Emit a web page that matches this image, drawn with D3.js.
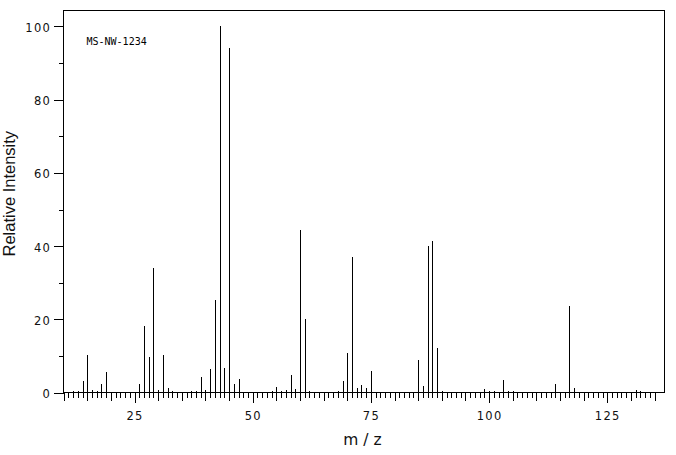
<!DOCTYPE html>
<html>
<head>
<meta charset="utf-8">
<script src="https://cdn.jsdelivr.net/npm/d3@7"></script>
<style>
  body { margin: 0; background: #fff; }
  svg { display: block; }
  .tick text { font-family: "DejaVu Sans", sans-serif; font-size: 11.5px; letter-spacing: 1.3px; fill: #111; }
</style>
</head>
<body>
<script>
// peak list
const mz = [12, 13, 14, 15, 16, 17, 18, 19, 20, 25, 26, 27, 28, 29, 30, 31, 32, 33,
  36, 37, 38, 39, 40, 41, 42, 43, 44, 45, 46, 47, 53, 54, 55, 56, 57, 58, 59, 60,
  61, 62, 63, 68, 69, 70, 71, 72, 73, 74, 75, 76, 85, 86, 87, 88, 89, 90, 91,
  99, 100, 101, 103, 104, 105, 114, 117, 118, 119, 131, 132, 133];
const intensity = [0.4, 0.4, 3.2, 10.4, 0.7, 0.6, 2.4, 5.7, 0.3, 0.3, 2.4, 18.3, 9.8, 34.1, 0.7, 10.4, 1.3, 0.4,
  0.3, 0.5, 0.6, 4.4, 0.8, 6.6, 25.4, 100, 6.7, 94.1, 2.4, 3.7, 0.3, 0.4, 1.6, 0.5, 0.7, 4.9, 1.0, 44.3,
  20.2, 0.5, 0.3, 0.6, 3.3, 10.9, 37.1, 1.4, 2.2, 1.4, 6.0, 0.3, 9.0, 1.8, 40.0, 41.3, 12.3, 0.5, 0.3,
  1.0, 0.4, 0.5, 3.5, 0.4, 0.5, 2.4, 23.8, 1.3, 0.3, 0.8, 0.4, 0.3];

const xTicks = d3.range(10, 136);
const xLabels = [25, 50, 75, 100, 125];
const yTicks = d3.range(0, 101, 10);
const yLabels = [0, 20, 40, 60, 80, 100];
const sampleName = 'MS-NW-1234';

const w = 676, h = 455;
const plotLeft = 63.67, plotRight = 664, plotTop = 10, plotBottom = 392.7;

const x = d3.scaleLinear([10, 137], [plotLeft, plotRight]);
const y = d3.scaleLinear([0, 104.5], [plotBottom, plotTop]);

const svg = d3.select('body').append('svg')
  .attr('width', w)
  .attr('height', h);

// frame (top + right); left and bottom come from the axes
svg.append('path')
  .attr('d', `M${plotLeft},${plotTop}H${plotRight}V${plotBottom}`)
  .attr('fill', 'none')
  .attr('stroke', '#000')
  .attr('shape-rendering', 'crispEdges');

// x axis: a tick every unit, longer every 5, longest every 25
const xAxis = svg.append('g')
  .attr('transform', `translate(0,${plotBottom})`)
  .call(d3.axisBottom(x)
    .tickValues(xTicks)
    .tickSize(5)
    .tickFormat(d => xLabels.includes(d) ? d : ''));
xAxis.selectAll('.tick line')
  .attr('y2', d => d % 25 === 0 ? 10 : d % 5 === 0 ? 8 : 5);
xAxis.selectAll('.tick text').attr('y', 27.3).attr('dy', 0);
xAxis.select('.domain').attr('d', `M${plotLeft},0H${plotRight}`);

// y axis
const yAxis = svg.append('g')
  .attr('transform', `translate(${plotLeft},0)`)
  .call(d3.axisLeft(y)
    .tickValues(yTicks)
    .tickSize(5)
    .tickFormat(d => yLabels.includes(d) ? d : ''));
yAxis.selectAll('.tick line')
  .attr('x2', d => d % 20 === 0 ? -10 : -5);
yAxis.selectAll('.tick text').attr('x', -12.5).attr('dy', '0.42em');
yAxis.select('.domain').attr('d', `M0,${plotTop}V${plotBottom}`);

svg.selectAll('.domain, .tick line')
  .attr('stroke', '#000')
  .attr('shape-rendering', 'crispEdges');

// sticks
svg.append('g')
  .selectAll('line')
  .data(mz)
  .join('line')
    .attr('x1', d => Math.round(x(d)) + 0.5)
    .attr('x2', d => Math.round(x(d)) + 0.5)
    .attr('y1', y(0))
    .attr('y2', (d, i) => y(intensity[i]))
    .attr('stroke', '#000')
    .attr('stroke-width', 1)
    .attr('shape-rendering', 'crispEdges');

svg.append('text')
  .attr('x', 86.5)
  .attr('y', 45)
  .style('font-family', '"DejaVu Sans Mono", monospace')
  .style('font-size', '10px')
  .text(sampleName);

svg.append('text')
  .attr('transform', 'translate(15,193.7) rotate(-90)')
  .attr('text-anchor', 'middle')
  .style('font-family', '"Liberation Sans", sans-serif')
  .style('font-size', '16.5px')
  .style('fill', '#111')
  .text('Relative Intensity');

svg.append('text')
  .attr('x', 365)
  .attr('y', 445)
  .attr('text-anchor', 'middle')
  .style('font-family', '"DejaVu Sans", sans-serif')
  .style('font-size', '15.5px')
  .style('letter-spacing', '5px')
  .style('fill', '#111')
  .text('m/z');
</script>
</body>
</html>
